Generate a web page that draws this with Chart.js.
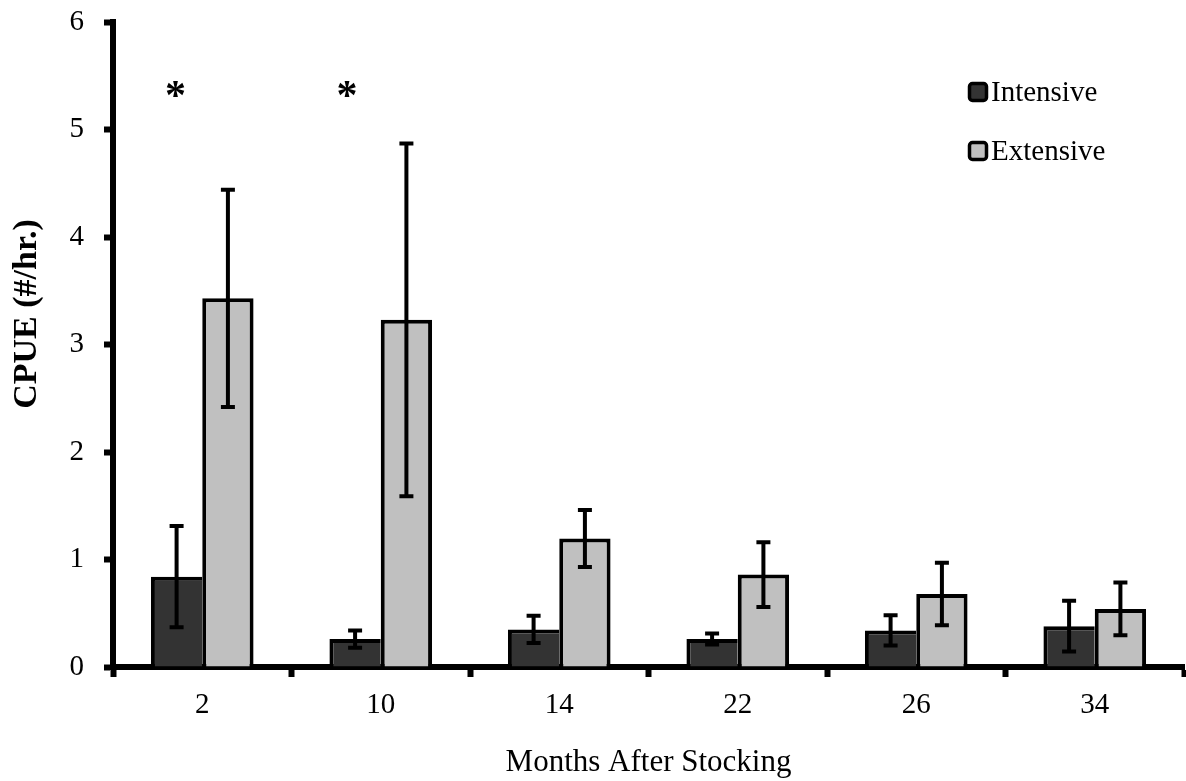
<!DOCTYPE html>
<html>
<head>
<meta charset="utf-8">
<script src="https://cdn.jsdelivr.net/npm/chart.js@4/dist/chart.umd.min.js"></script>
<style>
  html, body { margin: 0; padding: 0; background: #fff; }
  #wrap { width: 1186px; height: 781px; }
</style>
</head>
<body>
<div id="wrap"><canvas id="chart" width="1186" height="781"></canvas></div>
<script>
// Catch per unit effort by months after stocking, mean ± error
const months = ['2', '10', '14', '22', '26', '34'];
const intensive = [0.84, 0.26, 0.35, 0.26, 0.34, 0.38];
const intensiveErr = [0.48, 0.09, 0.135, 0.06, 0.15, 0.245];
const extensive = [3.43, 3.23, 1.195, 0.86, 0.68, 0.54];
const extensiveErr = [1.02, 1.65, 0.275, 0.31, 0.30, 0.255];
const significant = [true, true, false, false, false, false];
const starLevel = 5.37;
const yTicks = [0, 1, 2, 3, 4, 5, 6];
const yTitle = 'CPUE (#/hr.)';
const xTitle = 'Months After Stocking';

const SERIF = "'Liberation Serif', 'Times New Roman', serif";
Chart.defaults.font.family = SERIF;
Chart.defaults.color = '#000';

// whiskers with flat caps on every bar
const errorBars = {
  id: 'errorBars',
  afterDatasetsDraw(chart) {
    const { ctx } = chart;
    const y = chart.scales.y;
    chart.data.datasets.forEach((ds, di) => {
      const meta = chart.getDatasetMeta(di);
      meta.data.forEach((bar, i) => {
        const v = ds.data[i], e = ds.errors[i];
        const top = y.getPixelForValue(v + e);
        const bot = y.getPixelForValue(v - e);
        ctx.save();
        ctx.strokeStyle = '#000';
        ctx.lineWidth = 4;
        ctx.beginPath();
        ctx.moveTo(bar.x, top); ctx.lineTo(bar.x, bot);
        ctx.moveTo(bar.x - 7, top + 1); ctx.lineTo(bar.x + 7, top + 1);
        ctx.moveTo(bar.x - 7, bot - 1); ctx.lineTo(bar.x + 7, bot - 1);
        ctx.stroke();
        ctx.restore();
      });
    });
  }
};

// significance stars above the first series
const stars = {
  id: 'stars',
  afterDatasetsDraw(chart) {
    const { ctx } = chart;
    const y = chart.scales.y;
    const meta = chart.getDatasetMeta(0);
    ctx.save();
    ctx.font = 'bold 42px ' + SERIF;
    ctx.fillStyle = '#000';
    ctx.textAlign = 'center';
    ctx.textBaseline = 'alphabetic';
    significant.forEach((s, i) => {
      if (!s) return;
      const px = meta.data[i].x - (i ? 8 : 1);
      ctx.fillText('*', px, y.getPixelForValue(starLevel) + 0.47 * 42);
    });
    ctx.restore();
  }
};

// stacked legend with bordered swatches
const boxLegend = {
  id: 'boxLegend',
  afterDraw(chart) {
    const { ctx } = chart;
    const x0 = 968, y0 = 92, gap = 59, sz = 17;
    ctx.save();
    ctx.font = '29px ' + SERIF;
    ctx.textBaseline = 'middle';
    ctx.textAlign = 'left';
    chart.data.datasets.forEach((ds, i) => {
      const cy = y0 + i * gap;
      ctx.beginPath();
      ctx.roundRect(x0 + 1.5, cy - sz / 2, sz, sz, 3);
      ctx.fillStyle = ds.backgroundColor;
      ctx.fill();
      ctx.lineWidth = 3.5;
      ctx.strokeStyle = '#000';
      ctx.stroke();
      ctx.fillStyle = '#000';
      ctx.fillText(ds.label, x0 + 23, cy + 1);
    });
    ctx.restore();
  }
};

// vertical axis title, placed beside the value axis
const sideTitle = {
  id: 'sideTitle',
  afterDraw(chart) {
    const { ctx } = chart;
    ctx.save();
    ctx.translate(27, 314);
    ctx.rotate(-Math.PI / 2);
    ctx.font = 'bold 34px ' + SERIF;
    ctx.fillStyle = '#000';
    ctx.textAlign = 'center';
    ctx.textBaseline = 'middle';
    ctx.fillText(yTitle, 0, 0);
    ctx.restore();
  }
};

new Chart(document.getElementById('chart'), {
  type: 'bar',
  data: {
    labels: months,
    datasets: [
      {
        label: 'Intensive',
        data: intensive,
        errors: intensiveErr,
        backgroundColor: '#333333',
        borderColor: '#000',
        borderWidth: { top: 4, left: 4, right: 0, bottom: 0 },
        borderSkipped: 'start'
      },
      {
        label: 'Extensive',
        data: extensive,
        errors: extensiveErr,
        backgroundColor: '#c0c0c0',
        borderColor: '#000',
        borderWidth: { top: 4, left: 4, right: 4, bottom: 0 },
        borderSkipped: 'start'
      }
    ]
  },
  options: {
    responsive: false,
    animation: false,
    devicePixelRatio: 1,
    layout: { padding: { top: 22, right: 2, left: 0, bottom: 0 } },
    datasets: { bar: { categoryPercentage: 0.575, barPercentage: 1.0 } },
    plugins: { legend: { display: false }, tooltip: { enabled: false } },
    scales: {
      x: {
        afterFit: s => { s.height = 114; s.paddingLeft = 0; s.paddingRight = 0; },
        grid: {
          display: true, drawOnChartArea: false, drawTicks: true,
          tickLength: 10, tickWidth: 6, tickColor: '#000', color: '#000', offset: true
        },
        border: { display: true, color: '#000', width: 6 },
        ticks: { font: { size: 29 }, padding: 11, color: '#000' },
        title: { display: true, text: xTitle, font: { size: 31 }, padding: { top: 0, bottom: 0 }, color: '#000' }
      },
      y: {
        min: 0, max: 6,
        afterFit: s => { s.width = 113; s.paddingTop = 0; s.paddingBottom = 0; },
        afterBuildTicks: s => { s.ticks = yTicks.map(v => ({ value: v })); },
        grid: {
          display: true, drawOnChartArea: false, drawTicks: true,
          tickLength: 9, tickWidth: 6, tickColor: '#000', color: '#000'
        },
        border: { display: true, color: '#000', width: 6 },
        ticks: { font: { size: 29 }, padding: 20, color: '#000' }
      }
    }
  },
  plugins: [errorBars, stars, boxLegend, sideTitle]
});
</script>
</body>
</html>
